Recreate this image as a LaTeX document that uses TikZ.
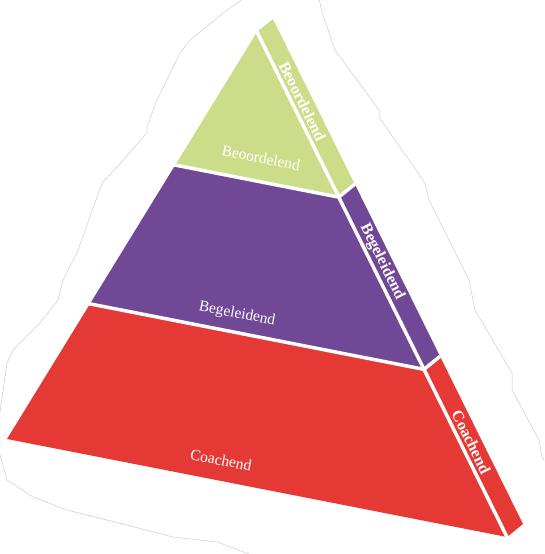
\documentclass[tikz,border=0pt]{standalone}
\usepackage{fontspec}
\setmainfont{Liberation Serif}
\usepackage{xcolor}
\usetikzlibrary{calc}

\definecolor{layergreen}{RGB}{204,221,138}
\definecolor{layerpurple}{RGB}{112,72,150}
\definecolor{layerred}{RGB}{229,57,53}

\begin{document}
\begin{tikzpicture}[
  x=1pt, y=-1pt,
  divider/.style={white, line width=3.5pt},
  cutline/.style={gray!40, line width=0.5pt},
  frontlbl/.style={text=white, inner sep=0pt, rotate=-11, font=\fontsize{15.5}{16}\selectfont},
  sidelbl/.style={text=white, inner sep=0pt, rotate=-63.7, font=\fontsize{16}{16}\selectfont\bfseries}
]
\useasboundingbox (0,0) rectangle (544,554);
\clip (0,0) rectangle (544,554);

% Cut-out outline
\draw[cutline] (265,560) -- (217,542) -- (173,537) -- (127,525) -- (67,510) -- (33,497) -- (7,480)
  -- (-4,440) -- (7,363) -- (13,350) -- (40,323) -- (58,300) -- (63,280) -- (77,253) -- (102,183)
  -- (117,167) -- (147,133) -- (147,127) -- (157,100) -- (180,53) -- (190,40) -- (227,10)
  -- (250,-6) -- (318,-6) -- (322,12) -- (335,50) -- (379,110) -- (379,117) -- (425,183)
  -- (429,200) -- (469,280) -- (475,310) -- (512,373) -- (512,390) -- (539,440) -- (542,457)
  -- (556,480);

% Corners of the front face and depth of the side
\coordinate (top) at (257,32);
\coordinate (botleft) at (7,439);
\coordinate (botright) at (507,537);
\coordinate (depth) at (16,-13);

% Layer borders
\coordinate (l1) at ($(top)!0.327!(botleft)$);
\coordinate (r1) at ($(top)!0.327!(botright)$);
\coordinate (l2) at ($(top)!0.668!(botleft)$);
\coordinate (r2) at ($(top)!0.668!(botright)$);

% Front face
\fill[layergreen] (top) -- (l1) -- (r1) -- cycle;
\fill[layerpurple] (l1) -- (l2) -- (r2) -- (r1) -- cycle;
\fill[layerred] (l2) -- (botleft) -- (botright) -- (r2) -- cycle;

% Side face
\fill[layergreen] (top) -- ($(top)+(depth)$) -- ($(r1)+(depth)$) -- (r1) -- cycle;
\fill[layerpurple] (r1) -- ($(r1)+(depth)$) -- ($(r2)+(depth)$) -- (r2) -- cycle;
\fill[layerred] (r2) -- ($(r2)+(depth)$) -- ($(botright)+(depth)$) -- (botright) -- cycle;

% White gaps
\draw[divider, shorten <=-4pt] (l1) -- (r1) -- ($(r1)+(depth)$);
\draw[divider, shorten <=-4pt] (l2) -- (r2) -- ($(r2)+(depth)$);
\draw[divider, shorten <=-3pt, shorten >=-3pt] (top) -- (botright);

% Labels
\node[frontlbl] (frontjudge) at (261,158) {Beoordelend};
\node[frontlbl] (frontguide) at (237,314) {Begeleidend};
\node[frontlbl] (frontcoach) at (221,460) {Coachend};
\node[sidelbl] (sidejudge) at ($(top)!0.15!(botright)+0.5*(depth)$) {Beoordelend};
\node[sidelbl] (sideguide) at ($(top)!0.468!(botright)+0.5*(depth)$) {Begeleidend};
\node[sidelbl] (sidecoach) at ($(top)!0.825!(botright)+0.5*(depth)$) {Coachend};

\end{tikzpicture}
\end{document}
